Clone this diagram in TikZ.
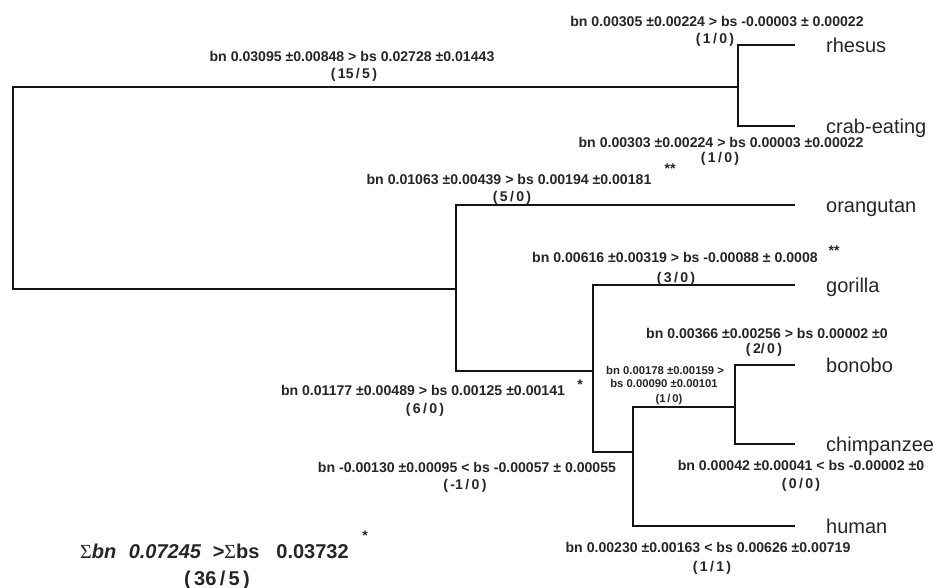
\documentclass[tikz,border=0pt]{standalone}
\usepackage{fontspec}
\setmainfont{Liberation Sans}
\newfontfamily\sigfont{Liberation Serif}
\begin{document}
\begin{tikzpicture}[x=1bp,y=-1bp,
  branch/.style={line width=2.7bp, line join=miter, draw=black!92},
  lab/.style={font=\fontsize{14.1bp}{16bp}\selectfont\bfseries, inner sep=0pt, anchor=base, text=black!85},
  smalllab/.style={font=\fontsize{11.3bp}{13bp}\selectfont\bfseries, inner sep=0pt, anchor=base, text=black!85},
  starlab/.style={font=\fontsize{14bp}{16bp}\selectfont\bfseries, inner sep=0pt, anchor=base, text=black!85},
  taxon/.style={font=\fontsize{20bp}{24bp}\selectfont, inner sep=0pt, anchor=base west, text=black!85},
  sumlab/.style={font=\fontsize{20bp}{22bp}\selectfont\bfseries, inner sep=0pt, anchor=base west, text=black!85},
]
\useasboundingbox[fill=white] (0,0) rectangle (934,588);

% ---- internal nodes and tips ----
\coordinate (root) at (13,188);
\coordinate (mac) at (738,87);
\coordinate (hom) at (456,289);
\coordinate (afr) at (593,371);
\coordinate (hp) at (633,452);
\coordinate (pan) at (735,407);

\coordinate (tRh) at (795,45);
\coordinate (tCr) at (795,126);
\coordinate (tOr) at (795,205);
\coordinate (tGo) at (795,285);
\coordinate (tBo) at (795,365);
\coordinate (tCh) at (795,444);
\coordinate (tHu) at (795,526);

% ---- branches ----
\draw[branch] (mac) -| (root) |- (hom);
\draw[branch] (tRh) -| (mac) |- (tCr);
\draw[branch] (tOr) -| (hom) |- (afr);
\draw[branch] (tGo) -| (afr) |- (hp);
\draw[branch] (pan) -| (hp) |- (tHu);
\draw[branch] (tBo) -| (pan) |- (tCh);

% ---- taxa ----
\node[taxon] (rhesus) at (826,52.5) {rhesus};
\node[taxon] (crab) at (826,133.5) {crab-eating};
\node[taxon] (orang) at (826,212.5) {orangutan};
\node[taxon] (gorilla) at (826,292.5) {gorilla};
\node[taxon] (bonobo) at (826,372.5) {bonobo};
\node[taxon] (chimp) at (826,451.5) {chimpanzee};
\node[taxon] (human) at (826,533.5) {human};

% ---- branch labels ----
\node[lab] (l1a) at (352,62) {bn 0.03095 ±0.00848 > bs 0.02728 ±0.01443};
\node[lab] (l1b) at (354,79) {(\,15\,/\,5\,)};

\node[lab] (l2a) at (717,27) {bn 0.00305 ±0.00224 > bs -0.00003 ± 0.00022};
\node[lab] (l2b) at (715,44) {(\,1\,/\,0\,)};

\node[lab] (l3a) at (721,148) {bn 0.00303 ±0.00224 > bs 0.00003 ±0.00022};
\node[lab] (l3b) at (720,163) {(\,1\,/\,0\,)};

\node[lab] (l4a) at (509,185) {bn 0.01063 ±0.00439 > bs 0.00194 ±0.00181};
\node[starlab] (l4s) at (670,174) {**};
\node[lab] (l4b) at (512,202) {(\,5\,/\,0\,)};

\node[lab] (l5a) at (675,263) {bn 0.00616 ±0.00319 > bs -0.00088 ± 0.0008};
\node[starlab] (l5s) at (834,256) {**};
\node[lab] (l5b) at (676,282) {(\,3\,/\,0\,)};

\node[lab] (l6a) at (767,338) {bn 0.00366 ±0.00256 > bs 0.00002 ±0};
\node[lab] (l6b) at (764,353) {(\,2/\,0\,)};

\node[smalllab] (l7a) at (665,374) {bn 0.00178 ±0.00159 >};
\node[smalllab] (l7b) at (664,387) {bs 0.00090 ±0.00101};
\node[smalllab] (l7c) at (669,402) {(1\,/\,0)};

\node[lab] (l8a) at (423,395) {bn 0.01177 ±0.00489 > bs 0.00125 ±0.00141};
\node[starlab] (l8s) at (580,389) {*};
\node[lab] (l8b) at (425,413) {(\,6\,/\,0\,)};

\node[lab] (l9a) at (467,472) {bn -0.00130 ±0.00095 < bs -0.00057 ± 0.00055};
\node[lab] (l9b) at (465,489) {(\,-1\,/\,0\,)};

\node[lab] (l10a) at (801,470) {bn 0.00042 ±0.00041 < bs -0.00002 ±0};
\node[lab] (l10b) at (801,488) {(\,0\,/\,0\,)};

\node[lab] (l11a) at (708,552) {bn 0.00230 ±0.00163 < bs 0.00626 ±0.00719};
\node[lab] (l11b) at (712,571) {(\,1\,/\,1\,)};

% ---- sum ----
\node[sumlab] (sum) at (80,558) {{\sigfont\mdseries Σ}\textit{bn}\hspace{12.5bp}\textit{0.07245}\hspace{11.5bp}>{\sigfont\mdseries Σ}bs\hspace{17bp}0.03732};
\node[starlab] (sums) at (365,540) {*};
\node[sumlab, anchor=base] (sumb) at (217,585) {(\,36\,/\,5\,)};
\end{tikzpicture}
\end{document}
